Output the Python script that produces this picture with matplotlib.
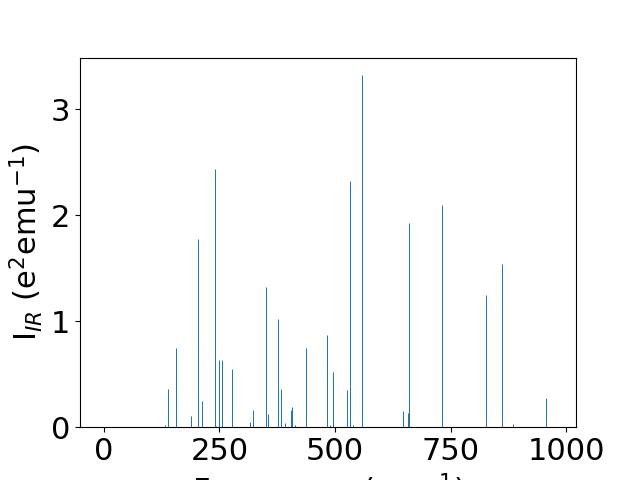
import matplotlib
matplotlib.use('Agg')
import matplotlib.pyplot as plt

# IR modes: frequency (cm^-1) and intensity (e^2 emu^-1)
freqs = [132, 138.5, 155.7, 188, 203.3, 212, 240, 242, 248.7, 255, 276.8,
         315.7, 322, 350, 354.7, 376.3, 382.8, 391.4, 404.4, 406.6, 413,
         436.9, 482.5, 488.8, 495.2, 525.5, 532, 538.5, 558, 646.6, 657.4,
         659.6, 731, 826.1, 860.7, 884.5, 955.9]
intens = [0.02, 0.36, 0.75, 0.107, 1.778, 0.248, 2.44, 0.01, 0.636, 0.636, 0.551,
          0.05, 0.16, 1.325, 0.124, 1.022, 0.36, 0.04, 0.166, 0.19, 0.02,
          0.75, 0.872, 0.02, 0.52, 0.352, 2.318, 0.02, 3.32, 0.154, 0.135,
          1.929, 2.1, 1.25, 1.54, 0.03, 0.277]

plt.rcParams.update({'font.size': 22})
fig, ax = plt.subplots(figsize=(6.4, 4.8))
ax.vlines(freqs, 0, intens, colors='C0', linewidth=0.72)
ax.set_xlim(-51.5, 1021)
ax.set_ylim(0, max(intens) * 1.05)
ax.set_xticks([0, 250, 500, 750, 1000])
ax.set_yticks([0, 1, 2, 3])
ax.set_xlabel('Frequency (cm$^{-1}$)')
ax.set_ylabel('I$_{IR}$ (e$^2$emu$^{-1}$)')
fig.savefig('out.png', dpi=100)
